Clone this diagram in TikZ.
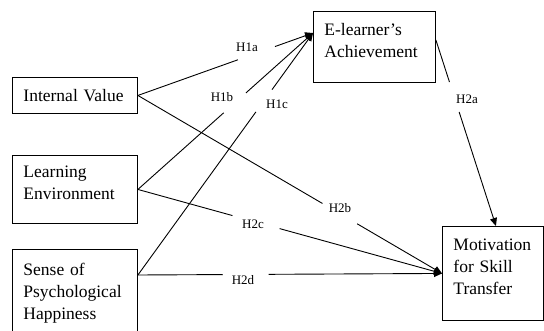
\documentclass[tikz,border=0pt]{standalone}
\usepackage{fontspec}
\setmainfont{Liberation Serif}
\usetikzlibrary{arrows.meta,calc}
\newcommand{\lowpad}[1]{\rule[-#1]{0pt}{#1}}
\tikzset{
  box/.style={draw, line width=0.9pt, anchor=north west, align=left, inner xsep=11pt,
    font=\fontsize{17.5}{22}\selectfont},
  lab/.style={font=\fontsize{13}{15}\selectfont, inner sep=1pt},
  link/.style={line width=0.9pt},
  arr/.style={line width=0.9pt, -{Triangle[length=8pt,width=7pt]}}
}
\begin{document}
\begin{tikzpicture}[x=1pt,y=-1pt]
\useasboundingbox (0,0) rectangle (544,331);
\node[box, minimum width=125pt, minimum height=36pt, text width=103pt] (iv) at (12,77) {Internal Value};
\node[box, minimum width=125pt, minimum height=68pt, text width=103pt] (le) at (12,155) {Learning\\Environment\lowpad{14pt}};
\node[box, minimum width=125pt, minimum height=92pt, text width=103pt] (sph) at (12,249) {Sense of\\Psychological\\Happiness\lowpad{9pt}};
\node[box, minimum width=122pt, minimum height=71pt, text width=100pt] (ea) at (313,11) {E-learner's\\Achievement\lowpad{14pt}};
\node[box, minimum width=101pt, minimum height=94pt, text width=79pt] (mot) at (442,226) {Motivation\\for Skill\\Transfer\lowpad{13pt}};

\coordinate (ein) at ($(ea.north west)+(0,22)$);
\coordinate (eout) at ($(ea.north east)+(0,29)$);
\coordinate (min) at ($(mot.north)+(3,0)$);
\coordinate (sphout) at ($(sph.north east)+(0,26)$);

% H1a
\draw[link] (iv.east) -- ($(iv.east)!0.571!(ein)$);
\draw[arr] ($(iv.east)!0.783!(ein)$) -- (ein);
% H1b
\draw[link] (le.east) -- ($(le.east)!0.49!(ein)$);
\draw[arr] ($(le.east)!0.617!(ein)$) -- (ein);
% H1c
\draw[link] (sphout) -- ($(sphout)!0.674!(ein)$);
\draw[arr] ($(sphout)!0.766!(ein)$) -- (ein);
% H2a
\draw[link] (eout) -- ($(eout)!0.226!(min)$);
\draw[arr] ($(eout)!0.387!(min)$) -- (min);
% H2b
\draw[link] (iv.east) -- ($(iv.east)!0.607!(mot.west)$);
\draw[arr] ($(iv.east)!0.721!(mot.west)$) -- (mot.west);
% H2c
\draw[link] (le.east) -- ($(le.east)!0.311!(mot.west)$);
\draw[arr] ($(le.east)!0.466!(mot.west)$) -- (mot.west);
% H2d
\draw[link] (sphout) -- ($(sphout)!0.279!(mot.west)$);
\draw[arr] ($(sphout)!0.43!(mot.west)$) -- (mot.west);

\node[lab] (h1a) at (247,47) {H1a};
\node[lab] (h1b) at (222,97) {H1b};
\node[lab] (h1c) at (277,104) {H1c};
\node[lab] (h2a) at (467,99) {H2a};
\node[lab] (h2b) at (340,208) {H2b};
\node[lab] (h2c) at (253,224) {H2c};
\node[lab] (h2d) at (243,280) {H2d};
\end{tikzpicture}
\end{document}
